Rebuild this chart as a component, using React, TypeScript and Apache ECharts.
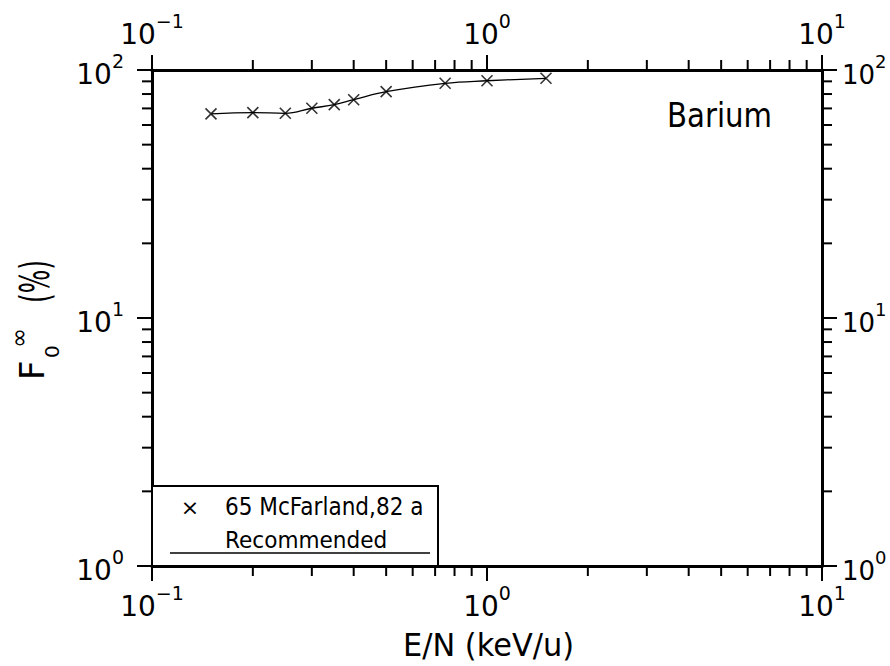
import React, { useEffect, useRef } from 'react';
import * as echarts from 'echarts';

const energies = [0.15, 0.2, 0.25, 0.3, 0.35, 0.4, 0.5, 0.75, 1.0, 1.5];
const fractions = [66.5, 67.3, 66.9, 70.1, 72.5, 75.9, 81.8, 88.4, 90.5, 92.6];
const xMajor = [0.1, 1, 10];
const yMajor = [1, 10, 100];
const minorMult = [2, 3, 4, 5, 6, 7, 8, 9];
const dataLabel = '65 McFarland,82 a';
const lineLabel = 'Recommended';
const panelLabel = 'Barium';
const xTitle = 'E/N (keV/u)';

const FONT = "'DejaVu Sans', sans-serif";

const expLabel = (v: number) => {
  const e = Math.round(Math.log10(v));
  return `{b|10}{e|${e < 0 ? '\u2212' + -e : e}}`;
};

const richFor = (s: number) => ({
  b: { fontSize: s, fontFamily: FONT, color: '#000', verticalAlign: 'bottom' },
  e: { fontSize: Math.round(s * 0.68), fontFamily: FONT, color: '#000', verticalAlign: 'bottom', padding: [0, 0, Math.round(s * 0.64), 0] },
});

export default function App() {
  const ref = useRef<HTMLDivElement>(null);
  useEffect(() => {
    if (!ref.current) return;
    const chart = echarts.init(ref.current, null, { renderer: 'svg' });
    const axisCommon = (pos: string, margin: number, size: number) => ({
      type: 'log',
      logBase: 10,
      position: pos,
      axisLine: { show: true, onZero: false, lineStyle: { color: '#000', width: 3 } },
      axisTick: { show: true, inside: false, length: 15, lineStyle: { color: '#000', width: 2 } },
      minorTick: { show: false },
      splitLine: { show: false },
      axisLabel: { show: true, margin, formatter: expLabel, rich: richFor(size), hideOverlap: false },
    });
    const option: any = {
      animation: false,
      backgroundColor: '#fff',
      grid: { left: 152, right: 68, top: 70, bottom: 100, containLabel: false, outerBoundsMode: 'none' },
      xAxis: [
        { ...axisCommon('bottom', 17, 28), min: xMajor[0], max: xMajor[2] },
        { ...axisCommon('top', 22, 28), min: xMajor[0], max: xMajor[2] },
      ],
      yAxis: [
        { ...axisCommon('left', 28, 28), min: yMajor[0], max: yMajor[2] },
        { ...axisCommon('right', 20, 26), min: yMajor[0], max: yMajor[2] },
      ],
      series: [
        {
          type: 'line', name: lineLabel, data: energies.map((e, i) => [e, fractions[i]]),
          smooth: 0.4, showSymbol: false, symbol: 'none',
          lineStyle: { color: '#000', width: 1.3 }, xAxisIndex: 0, yAxisIndex: 0,
        },
        {
          type: 'scatter', name: dataLabel, data: energies.map((e, i) => [e, fractions[i]]),
          symbol: 'path://M0,0L10,10M10,0L0,10', symbolSize: 11,
          itemStyle: { color: 'none', borderColor: '#000', borderWidth: 1.6 },
          xAxisIndex: 0, yAxisIndex: 0,
        },
      ],
    };
    chart.setOption(option);

    const px = (v: number) => chart.convertToPixel({ xAxisIndex: 0 }, v) as number;
    const py = (v: number) => chart.convertToPixel({ yAxisIndex: 0 }, v) as number;
    const L = px(xMajor[0]), R = px(xMajor[2]), T = py(yMajor[2]), B = py(yMajor[0]);
    const g: any[] = [];
    const seg = (x1: number, y1: number, x2: number, y2: number) =>
      g.push({ type: 'line', silent: true, shape: { x1, y1, x2, y2 }, style: { stroke: '#000', lineWidth: 2 } });
    const ML = 10;
    for (let d = 0; d < 2; d++) {
      for (const m of minorMult) {
        const x = px(xMajor[d] * m);
        seg(x, B, x, B + ML);
        seg(x, T, x, T - ML);
        const y = py(yMajor[d] * m);
        seg(L, y, L - ML, y);
        seg(R, y, R + ML, y);
      }
    }
    // legend box
    g.push({ type: 'rect', silent: true, shape: { x: L, y: 486, width: 286, height: B - 486 },
      style: { fill: '#fff', stroke: '#000', lineWidth: 2 }, z: 10 });
    g.push({ type: 'text', z: 11, x: 190, y: 507, style: { text: '\u00d7', font: `22px ${FONT}`, fill: '#000', align: 'center', verticalAlign: 'middle' } });
    g.push({ type: 'text', z: 11, x: 225, y: 507, scaleX: 0.9, style: { text: dataLabel, font: `24px ${FONT}`, fill: '#000', align: 'left', verticalAlign: 'middle' } });
    g.push({ type: 'text', z: 11, x: 225, y: 540, scaleX: 0.94, style: { text: lineLabel, font: `23px ${FONT}`, fill: '#000', align: 'left', verticalAlign: 'middle' } });
    g.push({ type: 'line', z: 11, silent: true, shape: { x1: 170, y1: 553, x2: 430, y2: 553 }, style: { stroke: '#000', lineWidth: 1.3 } });
    // panel label
    g.push({ type: 'text', x: 667, y: 115, scaleX: 0.86, style: { text: panelLabel, font: `34px ${FONT}`, fill: '#000', align: 'left', verticalAlign: 'middle' } });
    // x title
    g.push({ type: 'text', x: 403, y: 645, scaleX: 0.95, style: { text: xTitle, font: `32px ${FONT}`, fill: '#000', align: 'left', verticalAlign: 'middle' } });
    // y title
    g.push({
      type: 'group', x: 45, y: 377, rotation: Math.PI / 2,
      children: [
        { type: 'text', x: -3, y: -13, style: { text: 'F', font: `34px ${FONT}`, fill: '#000', align: 'left', verticalAlign: 'middle' } },
        { type: 'text', x: 19, y: 7, style: { text: '0', font: `20px ${FONT}`, fill: '#000', align: 'left', verticalAlign: 'middle' } },
        { type: 'text', x: 29, y: -26, style: { text: '\u221e', font: `24px ${FONT}`, fill: '#000', align: 'left', verticalAlign: 'middle' } },
        { type: 'text', x: 74, y: -10, scaleX: 0.62, style: { text: '(%)', font: `40px ${FONT}`, fill: '#000', align: 'left', verticalAlign: 'middle' } },
      ],
    });
    chart.setOption({ graphic: g });
    return () => chart.dispose();
  }, []);
  return <div ref={ref} style={{ width: 890, height: 666, position: 'absolute', left: 0, top: 0 }} />;
}
